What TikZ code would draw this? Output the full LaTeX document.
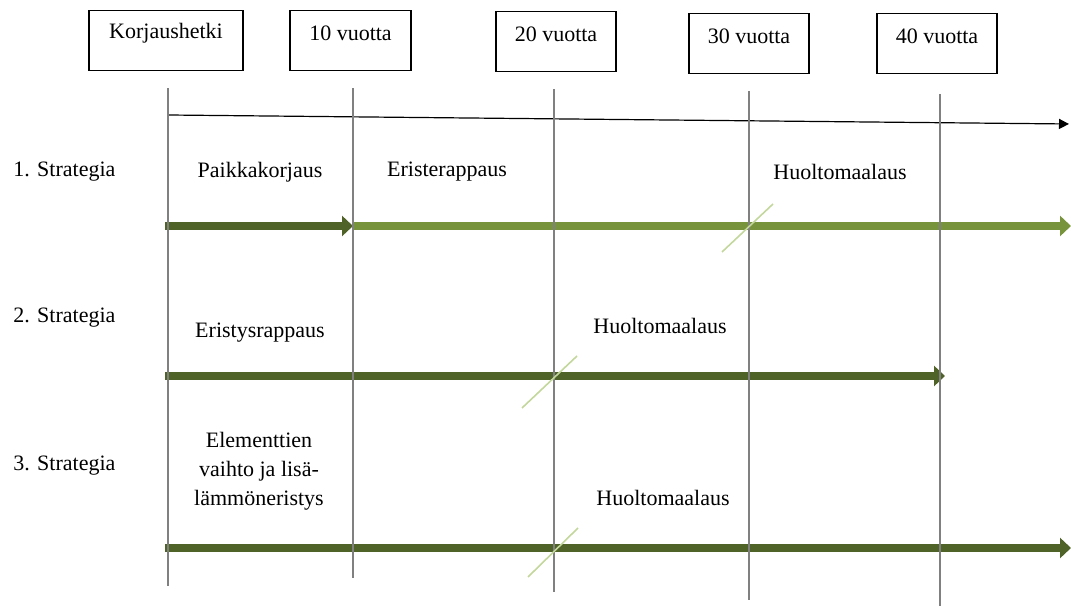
\documentclass[tikz,border=0pt]{standalone}
\usepackage{fontspec}
\setmainfont{Liberation Serif}
\usetikzlibrary{arrows.meta}
\definecolor{olivedark}{HTML}{4F6228}
\definecolor{olivemid}{HTML}{77933C}
\definecolor{olivelight}{HTML}{C3D69B}
\definecolor{gridgray}{HTML}{808080}
\begin{document}
\begin{tikzpicture}[x=0.5pt,y=-0.5pt,
  every node/.style={font=\fontsize{11}{13}\selectfont, inner sep=0pt},
  yearbox/.style={draw=black, line width=0.6pt, minimum height=30pt},
  label/.style={anchor=center},
  gridline/.style={draw=gridgray, line width=0.7pt},
  timeaxis/.style={draw=black, line width=0.6pt, -{Triangle[length=5pt,width=5pt]}},
  bararrow/.style={line width=4.3pt, -{Triangle[length=5.5pt,width=10pt]}},
  slash/.style={draw=olivelight, line width=0.8pt}]
\useasboundingbox (0,0) rectangle (1071,608);

% year boxes
\node[yearbox, minimum width=77pt] (b0) at (166,40.5) {};
\node[yearbox, minimum width=60.5pt] (b1) at (350.5,40.5) {};
\node[yearbox, minimum width=60pt] (b2) at (556,41.5) {};
\node[yearbox, minimum width=60pt] (b3) at (749,43.5) {};
\node[yearbox, minimum width=60pt] (b4) at (937,43.5) {};
\node[label] (t0) at (166,33) {Korjaushetki};
\node[label] (t1) at (350.5,33) {10 vuotta};
\node[label] (t2) at (556,34) {20 vuotta};
\node[label] (t3) at (749,36) {30 vuotta};
\node[label] (t4) at (937,36) {40 vuotta};

% strategy labels
\node[anchor=west] (s1) at (13,172) {1. Strategia};
\node[anchor=west] (s2) at (13,318) {2. Strategia};
\node[anchor=west] (s3) at (13,466) {3. Strategia};

% action labels
\node[label] (a1) at (260,172) {Paikkakorjaus};
\node[label] (a2) at (447,172) {Eristerappaus};
\node[label] (a3) at (840,172) {Huoltomaalaus};
\node[label] (a4) at (260,333) {Eristysrappaus};
\node[label] (a5) at (660,326) {Huoltomaalaus};
\node[label, align=center, font=\fontsize{11}{14.5}\selectfont] (a6) at (259,471) {Elementtien\\vaihto ja lisä-\\lämmöneristys};
\node[label] (a7) at (663,498) {Huoltomaalaus};

% time axis
\coordinate (ax0) at (168,115);
\coordinate (ax1) at (1069,124);
\draw[timeaxis] (ax0) -- (ax1);

% strategy bars
\coordinate (r1a) at (165,226);
\coordinate (r1b) at (353,226);
\coordinate (r1c) at (1071,226);
\coordinate (r2a) at (165,376);
\coordinate (r2b) at (945,376);
\coordinate (r3a) at (165,548);
\coordinate (r3b) at (1071,548);
\draw[bararrow, olivedark] (r1a) -- (r1b);
\draw[bararrow, olivemid] (r1b) -- (r1c);
\draw[bararrow, olivedark] (r2a) -- (r2b);
\draw[bararrow, olivedark] (r3a) -- (r3b);

% grid lines
\coordinate (g0a) at (168,88);  \coordinate (g0b) at (168,586);
\coordinate (g1a) at (353,88);  \coordinate (g1b) at (353,578);
\coordinate (g2a) at (554,89);  \coordinate (g2b) at (554,592);
\coordinate (g3a) at (749,91);  \coordinate (g3b) at (749,600);
\coordinate (g4a) at (940,94);  \coordinate (g4b) at (940,606);
\foreach \g in {0,...,4} {\draw[gridline] (g\g a) -- (g\g b);}

% slashes
\coordinate (k1a) at (722,252); \coordinate (k1b) at (773,204);
\coordinate (k2a) at (522,408); \coordinate (k2b) at (577,356);
\coordinate (k3a) at (528,577); \coordinate (k3b) at (578,528);
\draw[slash] (k1a) -- (k1b);
\draw[slash] (k2a) -- (k2b);
\draw[slash] (k3a) -- (k3b);
\end{tikzpicture}
\end{document}
